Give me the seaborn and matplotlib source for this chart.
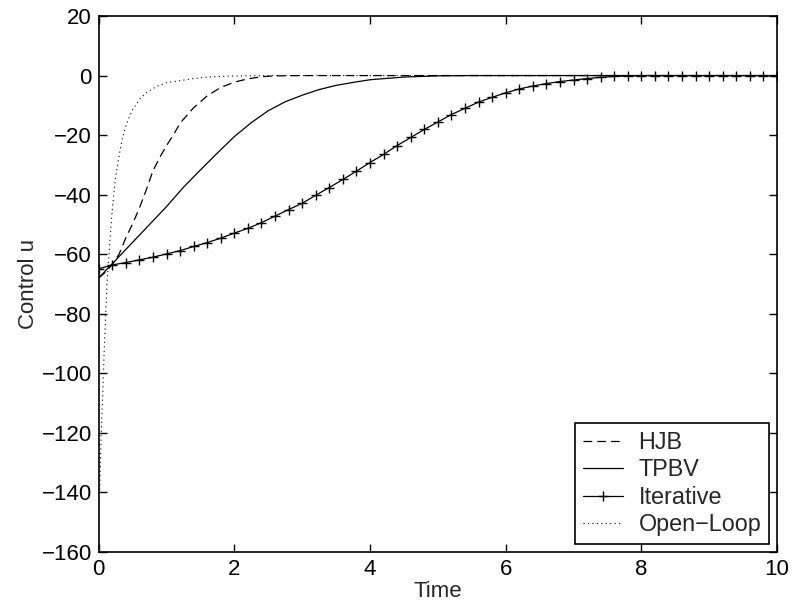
import numpy as np
import pandas as pd
import matplotlib
matplotlib.use("Agg")
import matplotlib.pyplot as plt
import seaborn as sns

# ---- data ----
hjb_t = [0, 0.1, 0.2, 0.3, 0.4, 0.5, 0.6, 0.7, 0.8, 0.9, 1.0, 1.1, 1.2, 1.4, 1.6,
         1.8, 2.0, 2.2, 2.4, 2.6, 3.0, 4.0, 6.0, 8.0, 10.0]
hjb_u = [-68, -66, -63.5, -60, -54.5, -49.8, -44.5, -38.5, -32, -27.5, -23.5, -20,
         -16, -10.8, -6.8, -4, -2.2, -1.1, -0.4, -0.1, 0, 0, 0, 0, 0]

tpbv_t = [0, 0.25, 0.5, 0.75, 1.0, 1.25, 1.5, 1.75, 2.0, 2.25, 2.5, 2.75, 3.0,
          3.25, 3.5, 3.75, 4.0, 4.5, 5.0, 5.5, 6.0, 8.0, 10.0]
tpbv_u = [-68, -62, -56, -50, -44, -37.5, -31.7, -26, -20.5, -15.8, -11.8, -8.8,
          -6.6, -4.7, -3.3, -2.3, -1.4, -0.5, -0.1, 0, 0, 0, 0]

iter_t = [round(0.2 * i, 1) for i in range(51)]
iter_u = [-64.9, -63.6, -62.8, -61.9, -61.0, -59.9, -58.8, -57.4, -56.1, -54.6,
          -52.9, -51.3, -49.4, -47.2, -45.0, -42.9, -40.2, -37.6, -34.9, -32.1,
          -29.2, -26.5, -23.5, -20.8, -18.1, -15.6, -13.1, -11.0, -8.9, -7.3,
          -5.8, -4.5, -3.5, -2.7, -2.0, -1.5, -1.0, -0.6, -0.3, -0.1,
          0, 0, 0, 0, 0, 0, 0, 0, 0, 0, 0]

ol_t = [0, 0.02, 0.04, 0.06, 0.08, 0.1, 0.12, 0.14, 0.17, 0.2, 0.25, 0.3, 0.35,
        0.4, 0.45, 0.5, 0.6, 0.7, 0.85, 1.0, 1.2, 1.4, 1.6, 1.8, 2.0, 2.5, 3.0, 10.0]
ol_u = [-145, -135, -118, -107, -93, -82, -71, -64, -54, -45, -34, -27, -21,
        -17, -14, -11.5, -8, -5.8, -3.7, -2.4, -1.7, -1.0, -0.5, -0.3, -0.15, 0, 0, 0]

labels = ["HJB", "TPBV", "Iterative", "Open\u2212Loop"]
x_ticks = [0, 2, 4, 6, 8, 10]
y_ticks = [20, 0, -20, -40, -60, -80, -100, -120, -140, -160]

sns.set_style("ticks")
plt.rcParams["font.family"] = ["Liberation Sans", "DejaVu Sans"]

FS = 16
LFS = 16.8
fig = plt.figure(figsize=(7.94, 6.11), dpi=100)
ax = fig.add_axes([0.1243, 0.0966, 0.9786 - 0.1243, 0.9738 - 0.0966])

lw = 0.9
sns.lineplot(x=hjb_t, y=hjb_u, ax=ax, color="black", lw=lw, label=labels[0],
             linestyle=(0, (7, 4)))
sns.lineplot(x=tpbv_t, y=tpbv_u, ax=ax, color="black", lw=lw, label=labels[1])
sns.lineplot(x=iter_t, y=iter_u, ax=ax, color="black", lw=lw, label=labels[2],
             marker="+", markersize=6.5, markeredgewidth=1.0, markeredgecolor="black")
sns.lineplot(x=ol_t, y=ol_u, ax=ax, color="black", lw=0.8, label=labels[3],
             linestyle=(0, (1, 3)))

ax.set_xlim(0, 10)
ax.set_ylim(-160, 20)
ax.set_xticks(x_ticks)
ax.set_yticks(y_ticks)
ax.tick_params(direction="in", length=6, width=1, labelsize=FS,
               top=True, right=True, pad=5, colors="black")
for s in ax.spines.values():
    s.set_linewidth(1.2)
    s.set_color("black")
    s.set_visible(True)
ax.set_xlabel("Time", fontsize=FS, labelpad=1)
ax.set_ylabel("Control u", fontsize=FS, labelpad=2)

leg = ax.legend(loc="lower right", fontsize=LFS, frameon=True, fancybox=False,
                edgecolor="black", framealpha=1, handlelength=1.72,
                labelspacing=0.19, borderaxespad=0.33, borderpad=0.35,
                handletextpad=0.64)
leg.get_frame().set_linewidth(1.2)

fig.savefig("out.png", dpi=100)
